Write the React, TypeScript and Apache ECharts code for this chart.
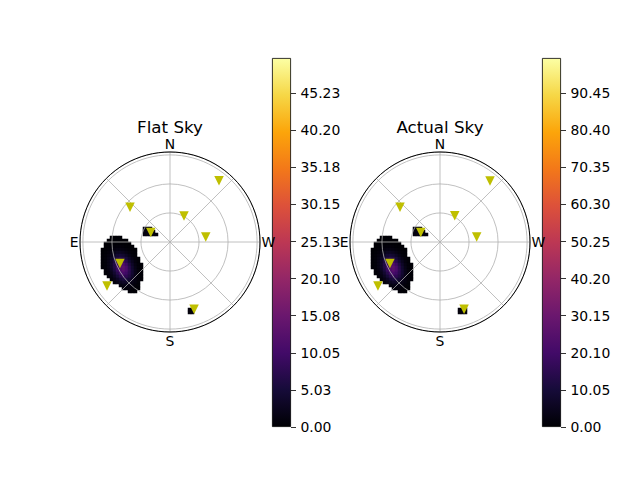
import React, { useEffect, useRef } from 'react';
import * as echarts from 'echarts';

const FONT = 'DejaVu Sans';

// Compass labels of the angle axis (azimuth, counter-clockwise from N)
const CARDINAL_VALUES = [0, 90, 180, 270];
const CARDINAL_LABELS = ['N', 'E', 'S', 'W'];

// Zenith-angle range and grid rings
const ZENITH_MAX = 93;
const ZENITH_STEP = 30;

// Marker positions (zenith angle in degrees, azimuth in degrees)
const FLAT_ZENITH = [81.0, 54.8, 30.6, 37.3, 22.2, 56.3, 79.4, 73.8];
const FLAT_AZIMUTH = [321.3, 49.0, 331.8, 278.1, 63.8, 113.3, 124.9, 199.7];
const ACTUAL_ZENITH = [81.6, 54.8, 31.0, 38.3, 22.2, 56.3, 78.6, 73.8];
const ACTUAL_AZIMUTH = [320.7, 49.0, 330.6, 277.9, 63.8, 113.3, 125.3, 199.7];

// Colour-bar ranges and ticks
const FLAT_MAX = 50;
const FLAT_TICKS = [0, 5.03, 10.05, 15.08, 20.1, 25.13, 30.15, 35.18, 40.2, 45.23];
const ACTUAL_MAX = 100;
const ACTUAL_TICKS = [0, 10.05, 20.1, 30.15, 40.2, 50.25, 60.3, 70.35, 80.4, 90.45];

// Inferno colour map
const INFERNO = ['#000004', '#160b39', '#420a68', '#6a176e', '#932667', '#bc3754', '#dd513a', '#f37819', '#fca50a', '#f6d746', '#fcffa4'];

// Sky-map raster: 60 x 60 cells over the plot square; each segment is a row index,
// its first column and the cell values along the row.
const RASTER_SIZE = 60;
const SEG_ROW = [25, 26, 27, 28, 29, 30, 31, 32, 33, 34, 35, 36, 37, 38, 39, 40, 41, 42, 43, 44, 45, 46, 52, 53];
const SEG_COL = [21, 21, 21, 10, 9, 8, 8, 7, 7, 7, 7, 7, 7, 7, 8, 8, 9, 10, 11, 13, 14, 16, 36, 36];

const FLAT_SEG_VAL = [
  [1.0, 1.2, 1.0],
  [1.2, 1.5, 1.5, 1.0],
  [1.0, 1.3, 1.5, 1.2, 0.8],
  [0.1, 0.1, 0.1, 0.1],
  [0.1, 0.1, 0.1, 0.1, 0.1, 0.1, 0.1],
  [0.1, 0.1, 0.2, 0.2, 0.2, 0.2, 0.2, 0.1, 0.1],
  [0.1, 0.2, 0.4, 0.5, 0.6, 0.6, 0.5, 0.3, 0.2, 0.1],
  [0.1, 0.2, 0.4, 0.7, 1.0, 1.2, 1.2, 1.0, 0.7, 0.4, 0.2, 0.1],
  [0.1, 0.3, 0.6, 1.2, 1.9, 2.5, 2.6, 2.2, 1.5, 0.8, 0.4, 0.2],
  [0.2, 0.4, 0.9, 1.8, 3.2, 4.2, 4.7, 4.0, 2.8, 1.6, 0.7, 0.3],
  [0.2, 0.5, 1.2, 2.6, 4.5, 6.1, 7.1, 6.3, 4.8, 2.9, 1.4, 0.6, 0.2],
  [0.2, 0.5, 1.4, 3.2, 5.7, 8.1, 9.6, 9.1, 7.1, 4.4, 2.3, 0.9, 0.4],
  [0.2, 0.5, 1.4, 3.3, 6.3, 9.6, 11.6, 11.6, 9.2, 6.1, 3.2, 1.3, 0.5, 0.2],
  [0.2, 0.5, 1.3, 3.2, 6.1, 9.7, 12.5, 12.9, 10.9, 7.2, 4.0, 1.7, 0.6, 0.2],
  [0.4, 1.0, 2.6, 5.3, 8.7, 11.6, 12.6, 10.9, 7.7, 4.3, 2.0, 0.7, 0.3],
  [0.3, 0.7, 1.9, 4.0, 6.8, 9.6, 10.9, 9.6, 7.2, 4.3, 2.1, 0.8, 0.3],
  [0.5, 1.2, 2.7, 4.8, 6.9, 8.1, 7.8, 6.1, 3.7, 1.8, 0.7, 0.3],
  [0.7, 1.5, 2.9, 4.4, 5.4, 5.3, 4.3, 2.8, 1.4, 0.6, 0.2],
  [0.8, 1.6, 2.5, 3.3, 3.3, 2.7, 1.8, 1.0, 0.5],
  [1.2, 1.6, 1.7, 1.5, 1.1, 0.6, 0.3],
  [0.8, 0.8, 0.8, 0.6, 0.4, 0.2],
  [0.4, 0.3, 0.2],
  [0.8, 1.0],
  [0.8, 1.0],
];

const ACTUAL_SEG_VAL = [
  [2.0, 2.4, 2.0],
  [2.4, 3.0, 3.0, 2.0],
  [2.0, 2.6, 3.0, 2.4, 1.6],
  [0.2, 0.2, 0.2, 0.2],
  [0.2, 0.2, 0.2, 0.2, 0.2, 0.2, 0.2],
  [0.2, 0.2, 0.4, 0.4, 0.4, 0.4, 0.4, 0.2, 0.2],
  [0.2, 0.4, 0.8, 1.0, 1.2, 1.2, 1.0, 0.6, 0.4, 0.2],
  [0.2, 0.4, 0.8, 1.4, 2.0, 2.4, 2.4, 2.0, 1.4, 0.8, 0.4, 0.2],
  [0.2, 0.6, 1.2, 2.4, 3.8, 5.0, 5.2, 4.4, 3.0, 1.6, 0.8, 0.4],
  [0.4, 0.8, 1.8, 3.6, 6.4, 8.4, 9.4, 8.0, 5.6, 3.2, 1.4, 0.6],
  [0.4, 1.0, 2.4, 5.2, 9.0, 12.2, 14.2, 12.6, 9.6, 5.8, 2.8, 1.2, 0.4],
  [0.4, 1.0, 2.8, 6.4, 11.4, 16.2, 19.2, 18.2, 14.2, 8.8, 4.6, 1.8, 0.8],
  [0.4, 1.0, 2.8, 6.6, 12.6, 19.2, 23.2, 23.2, 18.4, 12.2, 6.4, 2.6, 1.0, 0.4],
  [0.4, 1.0, 2.6, 6.4, 12.2, 19.4, 25.0, 25.8, 21.8, 14.4, 8.0, 3.4, 1.2, 0.4],
  [0.8, 2.0, 5.2, 10.6, 17.4, 23.2, 25.2, 21.8, 15.4, 8.6, 4.0, 1.4, 0.6],
  [0.6, 1.4, 3.8, 8.0, 13.6, 19.2, 21.8, 19.2, 14.4, 8.6, 4.2, 1.6, 0.6],
  [1.0, 2.4, 5.4, 9.6, 13.8, 16.2, 15.6, 12.2, 7.4, 3.6, 1.4, 0.6],
  [1.4, 3.0, 5.8, 8.8, 10.8, 10.6, 8.6, 5.6, 2.8, 1.2, 0.4],
  [1.6, 3.2, 5.0, 6.6, 6.6, 5.4, 3.6, 2.0, 1.0],
  [2.4, 3.2, 3.4, 3.0, 2.2, 1.2, 0.6],
  [1.6, 1.6, 1.6, 1.2, 0.8, 0.4],
  [0.8, 0.6, 0.4],
  [1.6, 2.0, 1.6],
  [1.6, 2.0, 1.6],
];

function buildCells(vals: number[][]) {
  const out: number[][] = [];
  SEG_ROW.forEach((r, i) => {
    vals[i].forEach((v, j) => out.push([SEG_COL[i] + j, r, v]));
  });
  return out;
}

const CELL_INDEX = Array.from({ length: RASTER_SIZE }, (_, i) => String(i));

function buildOption() {
  const panels = [
    { title: 'Flat Sky', cx: 170, zen: FLAT_ZENITH, az: FLAT_AZIMUTH, vals: FLAT_SEG_VAL, max: FLAT_MAX, ticks: FLAT_TICKS, barLeft: 272 },
    { title: 'Actual Sky', cx: 440, zen: ACTUAL_ZENITH, az: ACTUAL_AZIMUTH, vals: ACTUAL_SEG_VAL, max: ACTUAL_MAX, ticks: ACTUAL_TICKS, barLeft: 542 },
  ];
  const cy = 242;
  const R = 90;
  const textStyle = { color: '#000', fontSize: 13.9, fontFamily: FONT };

  const polar: any[] = [];
  const angleAxis: any[] = [];
  const radiusAxis: any[] = [];
  const grid: any[] = [];
  const xAxis: any[] = [];
  const yAxis: any[] = [];
  const series: any[] = [];
  const visualMap: any[] = [];
  const graphic: any[] = [];

  panels.forEach((p, k) => {
    polar.push({ center: [p.cx, cy], radius: R });
    angleAxis.push({
      polarIndex: k,
      type: 'value',
      min: 0,
      max: 360,
      interval: 45,
      startAngle: 90,
      clockwise: false,
      z: 4,
      axisLine: { show: true, lineStyle: { color: '#000', width: 1 } },
      axisTick: { show: false },
      splitLine: { show: true, lineStyle: { color: '#b0b0b0', width: 0.8 } },
      axisLabel: {
        show: true,
        margin: 1.5,
        ...textStyle,
        formatter: (v: number) => {
          const i = CARDINAL_VALUES.indexOf(Number(v));
          return i >= 0 ? CARDINAL_LABELS[i] : '';
        },
      },
    });
    radiusAxis.push({
      polarIndex: k,
      type: 'value',
      min: 0,
      max: ZENITH_MAX,
      interval: ZENITH_STEP,
      z: 3,
      axisLine: { show: false },
      axisTick: { show: false },
      axisLabel: { show: false },
      splitLine: { show: true, lineStyle: { color: '#b0b0b0', width: 0.8 } },
    });

    // raster grid over the polar square
    grid.push({ left: p.cx - R, top: cy - R, width: 2 * R, height: 2 * R, containLabel: false });
    xAxis.push({ gridIndex: k, type: 'category', data: CELL_INDEX, show: false });
    yAxis.push({ gridIndex: k, type: 'category', data: CELL_INDEX, show: false, inverse: true });
  });

  panels.forEach((p, k) => {
    // colour-bar grid
    grid.push({ left: p.barLeft, top: 58, width: 19, height: 369, containLabel: false });
    xAxis.push({ gridIndex: 2 + k, type: 'category', data: ['bar'], show: false });
    yAxis.push({
      gridIndex: 2 + k,
      type: 'value',
      position: 'right',
      min: 0,
      max: p.max,
      axisLine: { show: false },
      splitLine: { show: false },
      axisTick: { show: true, inside: false, length: 5, lineStyle: { color: '#000', width: 0.8 }, customValues: p.ticks },
      axisLabel: { show: true, margin: 9.5, ...textStyle, customValues: p.ticks, formatter: (v: number) => Number(v).toFixed(2) },
    });
  });

  panels.forEach((p, k) => {
    series.push({
      type: 'heatmap',
      xAxisIndex: k,
      yAxisIndex: k,
      data: buildCells(p.vals),
      z: 1,
      silent: true,
      progressive: 0,
      itemStyle: { borderWidth: 0 },
      emphasis: { disabled: true },
    });
    visualMap.push({
      type: 'continuous',
      seriesIndex: k,
      dimension: 2,
      min: 0,
      max: p.max,
      show: false,
      inRange: { color: INFERNO },
    });
  });

  panels.forEach((p, k) => {
    series.push({
      type: 'scatter',
      coordinateSystem: 'polar',
      polarIndex: k,
      data: p.zen.map((r, i) => [r, p.az[i]]),
      symbol: 'triangle',
      symbolRotate: 180,
      symbolSize: 9.5,
      itemStyle: { color: '#bfbf00', opacity: 1 },
      z: 6,
      silent: true,
    });
  });

  panels.forEach((p, k) => {
    const stops = INFERNO.map((c, i) => ({ offset: 1 - i / (INFERNO.length - 1), color: c })).reverse();
    series.push({
      type: 'bar',
      xAxisIndex: 2 + k,
      yAxisIndex: 2 + k,
      data: [p.max],
      barWidth: '100%',
      barCategoryGap: '0%',
      silent: true,
      itemStyle: {
        color: new echarts.graphic.LinearGradient(0, 0, 0, 1, stops),
        borderColor: '#000',
        borderWidth: 0.8,
      },
    });
    graphic.push({
      type: 'text',
      x: p.cx,
      y: 126.5,
      style: { text: p.title, fill: '#000', fontSize: 16.7, fontFamily: FONT, align: 'center', verticalAlign: 'middle' },
    });
  });

  return {
    animation: false,
    backgroundColor: '#fff',
    polar,
    angleAxis,
    radiusAxis,
    grid,
    xAxis,
    yAxis,
    visualMap,
    series,
    graphic,
  };
}

export default function App() {
  const ref = useRef<HTMLDivElement>(null);
  useEffect(() => {
    if (!ref.current) return;
    const chart = echarts.init(ref.current, null, { renderer: 'svg' });
    chart.setOption(buildOption() as any);
    return () => chart.dispose();
  }, []);
  return <div ref={ref} style={{ position: 'fixed', left: 0, top: 0, width: 640, height: 480 }} />;
}
